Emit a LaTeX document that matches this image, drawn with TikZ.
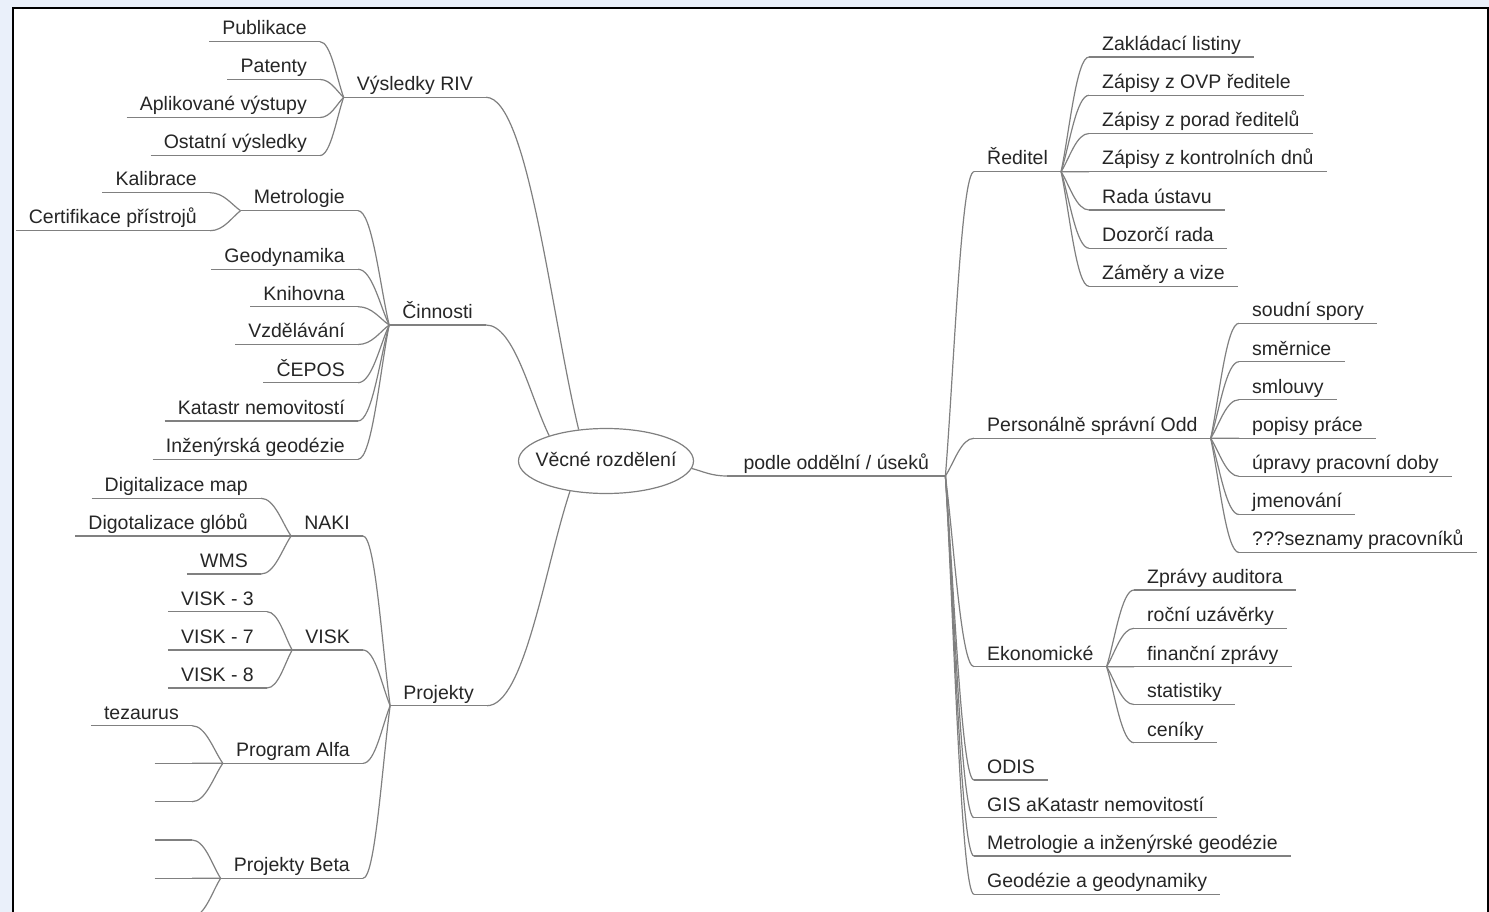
\documentclass[tikz,border=0pt]{standalone}
\usepackage{fontspec}
\setmainfont{Liberation Sans}
\usetikzlibrary{calc,shapes.geometric}

\definecolor{margin}{RGB}{234,240,250}
\newcommand\mapfont{\fontsize{19.5pt}{22pt}\selectfont}
% curved branch: leaves the parent point steeply, lands flat on the child's underline
\newcommand\branch[2]{%
  \draw[link] let \p1=(#1), \p2=(#2) in
    (\p1) .. controls ({0.7*\x1+0.3*\x2},{0.65*\y1+0.35*\y2})
      and ({0.45*\x1+0.55*\x2},\y2) .. (\p2);}

\begin{document}
\begin{tikzpicture}[x=1pt,y=-1pt,
  link/.style={draw=black!50,line width=1.2pt},
  topic/.style={font=\mapfont,text=black!85,inner xsep=13pt,inner ysep=2.5pt,
    text height=14pt,text depth=4pt,minimum width=37pt,
    append after command={(\tikzlastnode.south west)
      edge[link] (\tikzlastnode.south east)}},
  topicR/.style={topic,anchor=south west},
  topicL/.style={topic,anchor=south east},
  centre/.style={ellipse,draw=black!50,line width=1.2pt,font=\mapfont,
    text=black!85,inner xsep=-14pt,inner ysep=0pt,text height=14pt,
    text depth=4pt,minimum width=175pt,minimum height=65pt}]
  % canvas in pixels, y pointing down
  \useasboundingbox (0,0) rectangle (1489,912);
  \clip (0,0) rectangle (1489,912);
  \fill[margin] (0,0) rectangle (1489,912);
  \draw[line width=2pt,fill=white] (13,8) rectangle (1488,940);

  \node[centre] (root) at (606,461) {Věcné rozdělení};

  % right half: by department
  \node[topicR,minimum width=218pt] (dept) at (727,476) {podle oddělní / úseků};
  \branch{root.355}{dept.south west}
  \foreach \nm/\txt/\ya in {red/Ředitel/171.7, pers/Personálně správní Odd/438.3,
      eko/Ekonomické/666.7, odis/ODIS/780, gis/GIS aKatastr nemovitostí/817.7,
      metg/Metrologie a inženýrské geodézie/856,
      geod/Geodézie a geodynamiky/894.3}{
    \node[topicR] (\nm) at (974,\ya) {\txt};
    \branch{dept.south east}{\nm.south west}
  }
  \foreach \nm/\txt/\ya in {zakl/Zakládací listiny/57, ovp/Zápisy z OVP ředitele/95.3,
      porad/Zápisy z porad ředitelů/133.5, kontr/Zápisy z kontrolních dnů/171.7,
      rada/Rada ústavu/210, dozor/Dozorčí rada/248.2, zamer/Záměry a vize/286.3}{
    \node[topicR] (\nm) at (1089,\ya) {\txt};
    \branch{red.south east}{\nm.south west}
  }
  \foreach \nm/\txt/\ya in {spory/soudní spory/323.3, smer/směrnice/361.7,
      smlou/smlouvy/399.7, popis/popisy práce/438.3,
      uprav/úpravy pracovní doby/476.3, jmen/jmenování/514.5,
      sezn/???seznamy pracovníků/552.5}{
    \node[topicR] (\nm) at (1239,\ya) {\txt};
    \branch{pers.south east}{\nm.south west}
  }
  \foreach \nm/\txt/\ya in {audit/Zprávy auditora/590, uzav/roční uzávěrky/628.3,
      finan/finanční zprávy/666.7, stat/statistiky/704.5, cen/ceníky/742.7}{
    \node[topicR] (\nm) at (1134,\ya) {\txt};
    \branch{eko.south east}{\nm.south west}
  }

  % left half: by subject
  \node[topicL] (riv) at (486,97.3) {Výsledky RIV};
  \node[topicL] (cin) at (486,325) {Činnosti};
  \node[topicL] (proj) at (487,705.7) {Projekty};
  \branch{root.131}{riv.south east}
  \branch{root.156}{cin.south east}
  \branch{root.220}{proj.south east}

  \foreach \nm/\txt/\ya in {publ/Publikace/41.7, pat/Patenty/79.5,
      apl/Aplikované výstupy/117.5, ost/Ostatní výsledky/155.5}{
    \node[topicL] (\nm) at (320,\ya) {\txt};
    \branch{riv.south west}{\nm.south east}
  }
  \foreach \nm/\txt/\ya in {metr/Metrologie/210.7, gdyn/Geodynamika/269.3,
      knih/Knihovna/306.7, vzd/Vzdělávání/344.5, cepos/ČEPOS/382.7,
      kat/Katastr nemovitostí/421, inz/Inženýrská geodézie/459.3}{
    \node[topicL] (\nm) at (358,\ya) {\txt};
    \branch{cin.south west}{\nm.south east}
  }
  \foreach \nm/\txt/\ya in {kal/Kalibrace/192.7, cert/Certifikace přístrojů/230.7}{
    \node[topicL] (\nm) at (210,\ya) {\txt};
    \branch{metr.south west}{\nm.south east}
  }
  \foreach \nm/\txt/\ya in {naki/NAKI/536, visk/VISK/650, alfa/Program Alfa/763.3,
      beta/Projekty Beta/878.3}{
    \node[topicL] (\nm) at (363,\ya) {\txt};
    \branch{proj.south west}{\nm.south east}
  }
  \foreach \nm/\txt/\ya in {dmap/Digitalizace map/498.3, dglob/Digotalizace glóbů/536,
      wms/WMS/574}{
    \node[topicL] (\nm) at (261,\ya) {\txt};
    \branch{naki.south west}{\nm.south east}
  }
  \foreach \nm/\txt/\ya in {visk3/VISK - 3/611.7, visk7/VISK - 7/650,
      visk8/VISK - 8/688}{
    \node[topicL] (\nm) at (267,\ya) {\txt};
    \branch{visk.south west}{\nm.south east}
  }
  \foreach \nm/\txt/\ya in {tez/tezaurus/725.7, alfa2//763.3, alfa3//801.7}{
    \node[topicL] (\nm) at (192,\ya) {\txt};
    \branch{alfa.south west}{\nm.south east}
  }
  \foreach \nm/\txt/\ya in {beta1//840, beta2//878.3, beta3//916.6}{
    \node[topicL] (\nm) at (192,\ya) {\txt};
    \branch{beta.south west}{\nm.south east}
  }
\end{tikzpicture}
\end{document}
